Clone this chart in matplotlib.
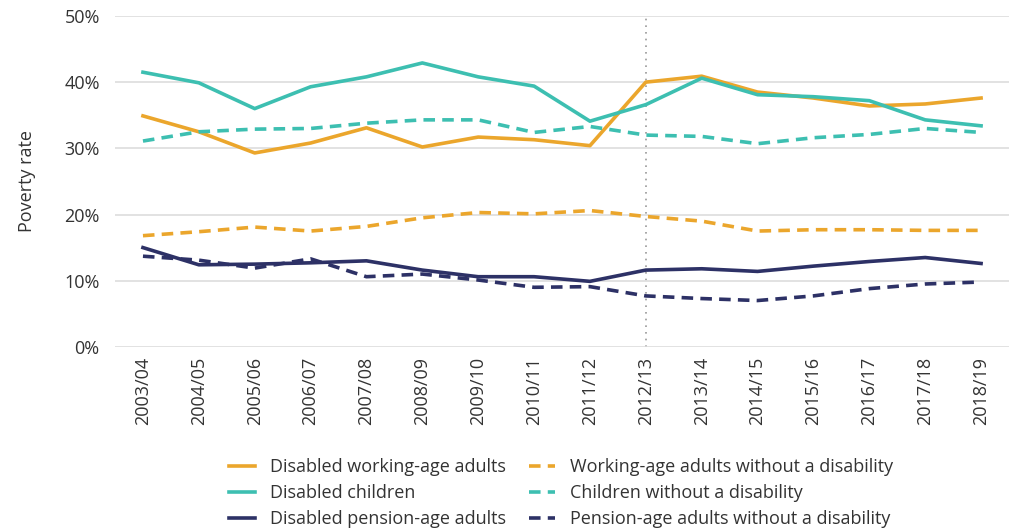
import matplotlib.pyplot as plt
from matplotlib.ticker import PercentFormatter
from matplotlib.lines import Line2D

plt.rcParams['font.family'] = ['Open Sans', 'DejaVu Sans']

years = ["2003/04", "2004/05", "2005/06", "2006/07", "2007/08", "2008/09",
         "2009/10", "2010/11", "2011/12", "2012/13", "2013/14", "2014/15",
         "2015/16", "2016/17", "2017/18", "2018/19"]

disabled_working = [34.9, 32.5, 29.3, 30.8, 33.1, 30.2, 31.7, 31.3, 30.4, 40.0,
                    40.9, 38.5, 37.6, 36.4, 36.7, 37.6]
disabled_children = [41.5, 39.9, 36.0, 39.3, 40.8, 42.9, 40.8, 39.4, 34.1, 36.6,
                     40.6, 38.1, 37.8, 37.2, 34.3, 33.4]
disabled_pension = [15.0, 12.4, 12.5, 12.7, 13.0, 11.6, 10.6, 10.6, 9.9, 11.6,
                    11.8, 11.4, 12.2, 12.9, 13.5, 12.6]
working_without = [16.8, 17.4, 18.1, 17.5, 18.2, 19.5, 20.3, 20.1, 20.6, 19.7,
                   19.0, 17.5, 17.7, 17.7, 17.6, 17.6]
children_without = [31.1, 32.5, 32.9, 33.0, 33.8, 34.3, 34.3, 32.4, 33.3, 32.0,
                    31.8, 30.7, 31.6, 32.1, 33.0, 32.4]
pension_without = [13.7, 13.1, 11.9, 13.3, 10.6, 11.0, 10.1, 9.0, 9.1, 7.7,
                   7.3, 7.0, 7.7, 8.8, 9.5, 9.8]

orange = "#EBA62C"
teal = "#3DBFB1"
navy = "#2D3166"
text_col = "#333333"
fs = 13

fig = plt.figure(figsize=(10.09, 5.32), dpi=100)
ax = fig.add_axes([0.114, 0.348, 0.886, 0.622])

x = range(len(years))
lw = 2.6
dash = (0, (3.2, 2))
ax.plot(x, disabled_working, color=orange, lw=lw)
ax.plot(x, disabled_children, color=teal, lw=lw)
ax.plot(x, disabled_pension, color=navy, lw=lw)
ax.plot(x, working_without, color=orange, lw=lw, ls=dash)
ax.plot(x, children_without, color=teal, lw=lw, ls=dash)
ax.plot(x, pension_without, color=navy, lw=lw, ls=dash)

# marker line at 2012/13
ax.axvline(9, color="#999999", lw=1.2, ls=(0, (1, 3)), zorder=0)

ax.set_xlim(-0.5, 15.5)
ax.set_ylim(0, 50)
ax.set_yticks([0, 10, 20, 30, 40, 50])
ax.yaxis.set_major_formatter(PercentFormatter(decimals=0))
ax.set_xticks(list(x))
ax.set_xticklabels(years, rotation=90)
ax.grid(axis="y", color="#dddddd", lw=1.2)
ax.set_axisbelow(True)
for s in ax.spines.values():
    s.set_visible(False)
ax.tick_params(axis="both", length=0, labelsize=fs, colors=text_col)
ax.tick_params(axis="y", pad=11)
ax.tick_params(axis="x", pad=7)
ax.set_ylabel("Poverty rate", fontsize=fs, color=text_col, labelpad=20)

handles = [
    Line2D([], [], color=orange, lw=lw),
    Line2D([], [], color=teal, lw=lw),
    Line2D([], [], color=navy, lw=lw),
    Line2D([], [], color=orange, lw=lw, ls=dash),
    Line2D([], [], color=teal, lw=lw, ls=dash),
    Line2D([], [], color=navy, lw=lw, ls=dash),
]
labels = ["Disabled working-age adults", "Disabled children",
          "Disabled pension-age adults", "Working-age adults without a disability",
          "Children without a disability", "Pension-age adults without a disability"]
fig.legend(handles, labels, ncol=2, loc="center", bbox_to_anchor=(0.556, 0.073),
           frameon=False, fontsize=fs, handlelength=1.45, handletextpad=0.8,
           columnspacing=1.3, labelspacing=0.45, borderpad=0, labelcolor=text_col)

fig.savefig("out.png", dpi=100)
